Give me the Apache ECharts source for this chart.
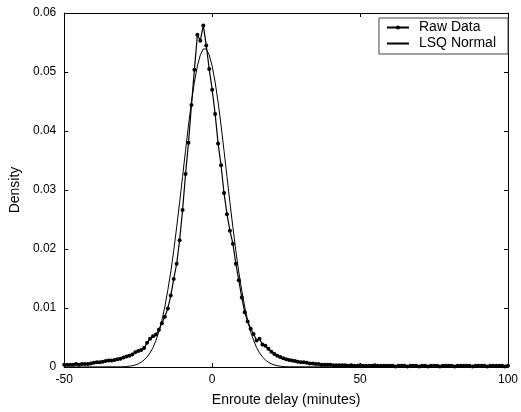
<!DOCTYPE html>
<html>
<head>
<meta charset="utf-8">
<script src="https://cdn.jsdelivr.net/npm/echarts@6/dist/echarts.min.js"></script>
<style>html,body{margin:0;padding:0;background:#fff;}#c{width:521px;height:412px;}</style>
</head>
<body>
<div id="c"></div>
<script>
// Raw data: x (minutes) and density
const rawX = [-50,-49,-48,-47,-46,-45,-44,-43,-42,-41,-40,-39,-38,-37,-36,-35,-34,-33,-32,-31,-30,-29,-28,-27,-26,-25,-24,-23,-22,-21,-20,-19,-18,-17,-16,-15,-14,-13,-12,-11,-10,-9,-8,-7,-6,-5,-4,-3,-2,-1,0,1,2,3,4,5,6,7,8,9,10,11,12,13,14,15,16,17,18,19,20,21,22,23,24,25,26,27,28,29,30,31,32,33,34,35,36,37,38,39,40,41,42,43,44,45,46,47,48,49,50,51,52,53,54,55,56,57,58,59,60,61,62,63,64,65,66,67,68,69,70,71,72,73,74,75,76,77,78,79,80,81,82,83,84,85,86,87,88,89,90,91,92,93,94,95,96,97,98,99,100];
const rawY = [
0.0004,0.0004,0.0004,0.0004,0.0005,0.0004,0.0005,0.0005,0.0005,0.0006,
0.0007,0.0008,0.0008,0.0009,0.0010,0.0011,0.0011,0.0012,0.0013,0.0014,
0.0016,0.0018,0.0019,0.0021,0.0025,0.0027,0.0029,0.0032,0.0041,0.0048,
0.0052,0.0055,0.0063,0.0074,0.0085,0.0099,0.0121,0.0149,0.0175,0.0215,
0.0266,0.0327,0.0380,0.0444,0.0504,0.0563,0.0553,0.0579,0.0545,0.0505,
0.0470,0.0429,0.0379,0.0342,0.0295,0.0259,0.0231,0.0209,0.0175,0.0147,
0.0118,0.0093,0.0077,0.0065,0.0056,0.0045,0.0048,0.0038,0.0036,0.0031,
0.0026,0.0022,0.0019,0.0017,0.0015,0.0013,0.0012,0.0011,0.0010,0.0009,
0.0008,0.0008,0.0007,0.0006,0.0006,0.0005,0.0005,0.0004,0.0004,0.0004,
0.0004,0.0003,0.0003,0.0003,0.0003,0.0003,0.0002,0.0003,0.0002,0.0002,
0.0003,0.0002,0.0002,0.0002,0.0002,0.0003,0.0002,0.0002,0.0002,0.0002,
0.0002,0.0002,0.0001,0.0002,0.0002,0.0002,0.0001,0.0002,0.0002,0.0002,
0.0001,0.0002,0.0002,0.0001,0.0002,0.0002,0.0002,0.0001,0.0002,0.0002,
0.0002,0.0002,0.0001,0.0002,0.0002,0.0002,0.0002,0.0002,0.0001,0.0002,
0.0002,0.0002,0.0002,0.0001,0.0002,0.0002,0.0002,0.0002,0.0002,0.0001,0.0002];

// LSQ normal fit
const normX = [-50,-31,-30,-29,-28,-27,-26,-25,-24,-23,-22,-21,-20,-19,-18,-17,-16,-15,-14,-13,-12,-11,-10,-9,-8,-7,-6,-5,-4,-3,-2,-1,0,1,2,3,4,5,6,7,8,9,10,11,12,13,14,15,16,17,18,19,20,21,22,23,24,25,26,100];
const normY = [0,0.00003,0.00005,0.00008,0.00014,0.00022,0.00035,0.00053,0.0008,0.0012,0.0017,0.0024,0.0033,0.0045,0.0060,0.0079,0.0102,0.0130,0.0161,0.0197,0.0237,0.0279,0.0323,0.0367,0.0410,0.0449,0.0483,0.0510,0.0529,0.0539,0.0539,0.0529,0.0510,0.0483,0.0449,0.0410,0.0367,0.0323,0.0279,0.0237,0.0197,0.0161,0.0130,0.0102,0.0079,0.0060,0.0045,0.0033,0.0024,0.0017,0.0012,0.0008,0.00053,0.00035,0.00022,0.00014,0.00008,0.00005,0.00003,0];

const xTicks = [-50, 0, 50, 100];
const yTicks = [0, 0.01, 0.02, 0.03, 0.04, 0.05, 0.06];
const seriesNames = ['Raw Data', 'LSQ Normal'];

const font = 'Liberation Sans, Arial, sans-serif';
const chart = echarts.init(document.getElementById('c'), null, {renderer: 'canvas'});
const pair = (xs, ys) => xs.map((x, i) => [x, ys[i]]);
const frameAxis = {
  axisLine: {show: true, onZero: false, lineStyle: {color: '#000', width: 1}},
  axisTick: {show: true, inside: true, length: 4, lineStyle: {color: '#000'}},
  axisLabel: {show: false}, splitLine: {show: false}
};

chart.setOption({
  animation: false,
  backgroundColor: '#fff',
  grid: {left: 58, right: 8, top: 13, bottom: 41, containLabel: false},
  legend: {
    orient: 'vertical', right: 13, top: 18,
    data: [{name: seriesNames[0]}, {name: seriesNames[1], itemStyle: {opacity: 0}}],
    itemWidth: 22, itemHeight: 5, itemGap: 1,
    padding: [2, 12, 3, 7],
    borderColor: '#444', borderWidth: 1,
    textStyle: {fontFamily: font, fontSize: 14, color: '#000', padding: [0, 0, 0, 5], lineHeight: 15}
  },
  xAxis: [Object.assign({
    type: 'value', min: xTicks[0], max: xTicks[xTicks.length - 1], interval: 50,
    name: 'Enroute delay (minutes)', nameLocation: 'middle', nameGap: 26,
    nameTextStyle: {fontFamily: font, fontSize: 14, color: '#000'}
  }, frameAxis, {
    axisLabel: {fontFamily: font, fontSize: 12, color: '#000', margin: 7}
  }), Object.assign({
    type: 'value', position: 'top', min: xTicks[0], max: xTicks[xTicks.length - 1], interval: 50
  }, frameAxis)],
  yAxis: [Object.assign({
    type: 'value', min: yTicks[0], max: yTicks[yTicks.length - 1], interval: 0.01,
    name: 'Density', nameLocation: 'middle', nameGap: 36, nameRotate: 90,
    nameTextStyle: {fontFamily: font, fontSize: 14, color: '#000'}
  }, frameAxis, {
    axisLabel: {fontFamily: font, fontSize: 12, color: '#000', margin: 8,
      formatter: v => v === 0 ? '0' : v.toFixed(2)}
  }), Object.assign({
    type: 'value', position: 'right', min: yTicks[0], max: yTicks[yTicks.length - 1], interval: 0.01
  }, frameAxis)],
  series: [{
    name: seriesNames[0], type: 'line', xAxisIndex: 0, yAxisIndex: 0,
    data: pair(rawX, rawY),
    symbol: 'circle', symbolSize: 4, showSymbol: true,
    lineStyle: {color: '#000', width: 1.2},
    itemStyle: {color: '#000'},
    z: 3
  }, {
    name: seriesNames[1], type: 'line', xAxisIndex: 0, yAxisIndex: 0,
    data: pair(normX, normY),
    symbol: 'none', showSymbol: false,
    lineStyle: {color: '#000', width: 1},
    itemStyle: {color: '#000'},
    z: 2
  }]
});
</script>
</body>
</html>
